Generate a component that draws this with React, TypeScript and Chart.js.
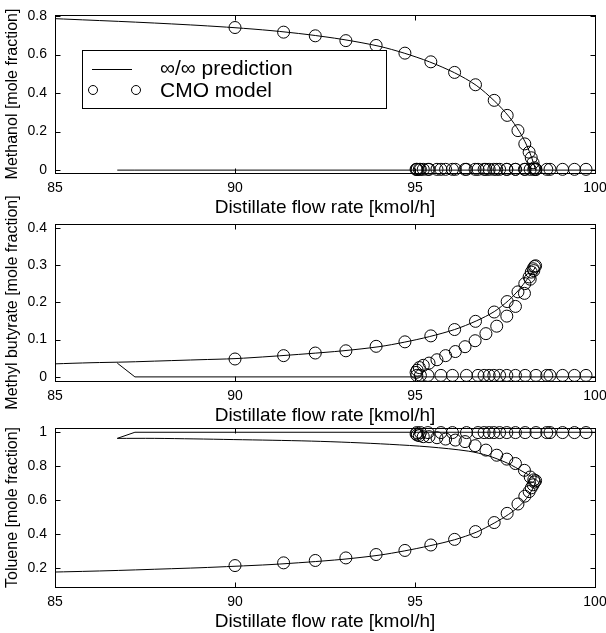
import React, { useEffect, useRef } from "react";
import { Chart, registerables } from "chart.js";

Chart.register(...registerables);

// ---------- data ----------
const X_TICKS = [85, 90, 95, 100];
const METHANOL_TICKS = [0, 0.2, 0.4, 0.6, 0.8];
const MB_TICKS = [0, 0.1, 0.2, 0.3, 0.4];
const TOLUENE_TICKS = [0.2, 0.4, 0.6, 0.8, 1];

// CMO model points, rising branch (D from 90 to the turning point)
const CMO_D_RISE = [90.0, 91.35, 92.23, 93.08, 93.92, 94.72, 95.44, 96.1, 96.68, 97.2, 97.56, 97.86, 98.05, 98.17, 98.23, 98.28, 98.32, 98.35];
const CMO_METHANOL_RISE = [0.74, 0.716, 0.697, 0.672, 0.647, 0.607, 0.562, 0.507, 0.443, 0.362, 0.284, 0.205, 0.136, 0.093, 0.064, 0.038, 0.012, 0.003];
const CMO_MB_RISE = [0.048, 0.057, 0.064, 0.07, 0.082, 0.094, 0.11, 0.127, 0.149, 0.174, 0.202, 0.228, 0.25, 0.268, 0.281, 0.29, 0.296, 0.298];
const CMO_TOLUENE_RISE = [0.216, 0.232, 0.246, 0.261, 0.281, 0.305, 0.337, 0.37, 0.416, 0.469, 0.523, 0.578, 0.624, 0.651, 0.673, 0.691, 0.707, 0.715];

// CMO model points, return branch (from the turning point back to D = 95)
const CMO_D_RETURN = [98.3, 98.2, 98.04, 97.79, 97.55, 97.27, 96.97, 96.67, 96.39, 96.12, 95.85, 95.61, 95.39, 95.23, 95.12, 95.06, 95.03];
const CMO_METHANOL_RETURN = [0.004, 0.004, 0.004, 0.004, 0.004, 0.004, 0.004, 0.004, 0.004, 0.004, 0.004, 0.004, 0.004, 0.004, 0.004, 0.004, 0.004];
const CMO_MB_RETURN = [0.285, 0.262, 0.224, 0.189, 0.163, 0.136, 0.116, 0.097, 0.081, 0.068, 0.057, 0.046, 0.037, 0.031, 0.025, 0.018, 0.012];
const CMO_TOLUENE_RETURN = [0.72, 0.737, 0.776, 0.816, 0.842, 0.865, 0.895, 0.921, 0.945, 0.954, 0.96, 0.968, 0.974, 0.974, 0.98, 0.984, 0.99];

// CMO model points, pure-toluene plateau branch
const CMO_D_PLATEAU = [95.05, 95.15, 95.36, 95.72, 96.04, 96.43, 96.75, 96.92, 97.06, 97.19, 97.35, 97.55, 97.79, 98.06, 98.36, 98.66, 98.75, 99.1, 99.43, 99.75];
const CMO_METHANOL_PLATEAU = [0.004, 0.004, 0.004, 0.004, 0.004, 0.004, 0.004, 0.004, 0.004, 0.004, 0.004, 0.004, 0.004, 0.004, 0.004, 0.004, 0.004, 0.004, 0.004, 0.004];
const CMO_MB_PLATEAU = [0.004, 0.004, 0.004, 0.004, 0.004, 0.004, 0.004, 0.004, 0.004, 0.004, 0.004, 0.004, 0.004, 0.004, 0.004, 0.004, 0.004, 0.004, 0.004, 0.004];
const CMO_TOLUENE_PLATEAU = [0.998, 0.998, 0.998, 0.998, 0.998, 0.998, 0.998, 0.998, 0.998, 0.998, 0.998, 0.998, 0.998, 0.998, 0.998, 0.998, 0.998, 0.998, 0.998, 0.998];

// ∞/∞ prediction, main branch
const PRED_D_MAIN = [85, 86, 87, 88, 89, 90, 91, 92, 93, 94, 94.7, 95.4, 96.1, 96.7, 97.2, 97.6, 97.9, 98.1, 98.25, 98.35];
const PRED_METHANOL_MAIN = [0.786, 0.778, 0.77, 0.761, 0.751, 0.739, 0.724, 0.704, 0.678, 0.643, 0.607, 0.562, 0.505, 0.44, 0.36, 0.28, 0.2, 0.13, 0.06, 0.0];
const PRED_MB_MAIN = [0.035, 0.038, 0.04, 0.043, 0.046, 0.049, 0.055, 0.062, 0.07, 0.081, 0.093, 0.108, 0.127, 0.15, 0.175, 0.205, 0.235, 0.26, 0.28, 0.295];
const PRED_TOLUENE_MAIN = [0.178, 0.183, 0.189, 0.196, 0.203, 0.212, 0.222, 0.236, 0.253, 0.277, 0.302, 0.332, 0.368, 0.412, 0.466, 0.517, 0.566, 0.611, 0.66, 0.706];

// ∞/∞ prediction, toluene return branch (turning point back to the tip)
const PRED_D_RETURN = [98.35, 98.3, 98.0, 97.57, 97.03, 96.48, 95.39, 94.3, 93.21, 92.12, 91.03, 89.95, 88.86, 87.77, 86.73];
const PRED_TOLUENE_RETURN = [0.706, 0.73, 0.768, 0.818, 0.862, 0.889, 0.914, 0.929, 0.94, 0.948, 0.953, 0.957, 0.961, 0.964, 0.964];

// ∞/∞ prediction, tip-to-edge branch
const PRED_D_EDGE = [86.73, 87.22, 100];
const PRED_METHANOL_EDGE = [0, 0, 0];
const PRED_MB_EDGE = [0.037, 0, 0];
const PRED_TOLUENE_EDGE = [0.964, 1.0, 1.0];

const X_TITLE = "Distillate flow rate [kmol/h]";
const LEGEND_LINE = "\u221e/\u221e prediction";
const LEGEND_MARK = "CMO model";

// ---------- helpers ----------
const FONT = 'Helvetica, Arial, "Liberation Sans", sans-serif';

const pts = (xs: number[], ys: number[]) => xs.map((x, i) => ({ x, y: ys[i] }));

const lineDs = (data: any[], tension = 0) => ({
  data,
  showLine: true,
  pointRadius: 0,
  pointHoverRadius: 0,
  borderColor: "#000",
  borderWidth: 1,
  tension,
  clip: false as any,
});

const cmoDs = (data: any[]) => ({
  data,
  showLine: false,
  pointRadius: 6,
  pointHoverRadius: 6,
  pointStyle: "circle",
  pointBorderColor: "#000",
  pointBackgroundColor: "rgba(0,0,0,0)",
  pointBorderWidth: 1,
  clip: false as any,
});

const boxPlugin = {
  id: "matlabBox",
  afterDatasetsDraw(chart: any) {
    const { ctx, chartArea: a, scales } = chart;
    const x = scales.x;
    const y = scales.y;
    ctx.save();
    ctx.strokeStyle = "#000";
    ctx.lineWidth = 1;
    const L = Math.round(a.left) + 0.5;
    const R = Math.round(a.right) + 0.5;
    const T = Math.round(a.top) + 0.5;
    const B = Math.round(a.bottom) + 0.5;
    ctx.strokeRect(L, T, R - L, B - T);
    ctx.beginPath();
    const tl = 5;
    x.ticks.forEach((t: any) => {
      const px = Math.round(x.getPixelForValue(t.value)) + 0.5;
      ctx.moveTo(px, B);
      ctx.lineTo(px, B - tl);
      ctx.moveTo(px, T);
      ctx.lineTo(px, T + tl);
    });
    y.ticks.forEach((t: any) => {
      const py = Math.round(y.getPixelForValue(t.value)) + 0.5;
      ctx.moveTo(L, py);
      ctx.lineTo(L + tl, py);
      ctx.moveTo(R, py);
      ctx.lineTo(R - tl, py);
    });
    ctx.stroke();
    ctx.restore();
  },
};

const legendPlugin = {
  id: "cmoLegend",
  afterDatasetsDraw(chart: any) {
    const ctx = chart.ctx;
    ctx.save();
    ctx.fillStyle = "#fff";
    ctx.fillRect(82.5, 50.5, 304, 58);
    ctx.strokeStyle = "#000";
    ctx.lineWidth = 1;
    ctx.strokeRect(82.5, 50.5, 304, 58);
    ctx.beginPath();
    ctx.moveTo(92, 69.5);
    ctx.lineTo(132, 69.5);
    ctx.stroke();
    [93, 136].forEach((cx) => {
      ctx.beginPath();
      ctx.arc(cx, 90, 4.5, 0, Math.PI * 2);
      ctx.stroke();
    });
    ctx.fillStyle = "#000";
    ctx.font = `21px ${FONT}`;
    ctx.textAlign = "left";
    ctx.textBaseline = "middle";
    ctx.fillText(LEGEND_LINE, 160, 69);
    ctx.fillText(LEGEND_MARK, 160, 91);
    ctx.restore();
  },
};

type Panel = {
  top: number;
  height: number;
  padTop: number;
  padBottom: number;
  yMin: number;
  yMax: number;
  yTicks: number[];
  yTitle: string;
  datasets: any[];
  legend?: boolean;
};

const PANELS: Panel[] = [
  {
    top: 0,
    height: 230,
    padTop: 15,
    padBottom: 11,
    yMin: -0.015,
    yMax: 0.805,
    yTicks: METHANOL_TICKS,
    yTitle: "Methanol [mole fraction]",
    legend: true,
    datasets: [
      lineDs(pts(PRED_D_MAIN, PRED_METHANOL_MAIN), 0.3),
      lineDs(pts(PRED_D_EDGE, PRED_METHANOL_EDGE)),
      cmoDs(pts(CMO_D_RISE, CMO_METHANOL_RISE)),
      cmoDs(pts(CMO_D_RETURN, CMO_METHANOL_RETURN)),
      cmoDs(pts(CMO_D_PLATEAU, CMO_METHANOL_PLATEAU)),
    ],
  },
  {
    top: 180,
    height: 255,
    padTop: 44,
    padBottom: 8,
    yMin: -0.011,
    yMax: 0.41,
    yTicks: MB_TICKS,
    yTitle: "Methyl butyrate [mole fraction]",
    datasets: [
      lineDs(pts(PRED_D_MAIN, PRED_MB_MAIN), 0.3),
      lineDs(pts(PRED_D_EDGE, PRED_MB_EDGE)),
      cmoDs(pts(CMO_D_RISE, CMO_MB_RISE)),
      cmoDs(pts(CMO_D_RETURN, CMO_MB_RETURN)),
      cmoDs(pts(CMO_D_PLATEAU, CMO_MB_PLATEAU)),
    ],
  },
  {
    top: 403,
    height: 230,
    padTop: 25,
    padBottom: 0,
    yMin: 0.09,
    yMax: 1.025,
    yTicks: TOLUENE_TICKS,
    yTitle: "Toluene [mole fraction]",
    datasets: [
      lineDs(pts(PRED_D_MAIN, PRED_TOLUENE_MAIN), 0.3),
      lineDs(pts(PRED_D_RETURN, PRED_TOLUENE_RETURN), 0.3),
      lineDs(pts(PRED_D_EDGE, PRED_TOLUENE_EDGE)),
      cmoDs(pts(CMO_D_RISE, CMO_TOLUENE_RISE)),
      cmoDs(pts(CMO_D_RETURN, CMO_TOLUENE_RETURN)),
      cmoDs(pts(CMO_D_PLATEAU, CMO_TOLUENE_PLATEAU)),
    ],
  },
];

function PanelChart({ panel }: { panel: Panel }) {
  const ref = useRef<HTMLCanvasElement | null>(null);
  useEffect(() => {
    if (!ref.current) return;
    const chart = new Chart(ref.current, {
      type: "scatter",
      data: { datasets: panel.datasets },
      plugins: panel.legend ? [boxPlugin, legendPlugin] : [boxPlugin],
      options: {
        animation: false,
        responsive: false,
        devicePixelRatio: 1,
        events: [],
        layout: {
          padding: { top: panel.padTop, bottom: panel.padBottom, left: 0, right: 11 },
        },
        plugins: {
          legend: { display: false },
          tooltip: { enabled: false },
          title: { display: false },
        },
        scales: {
          x: {
            type: "linear",
            min: 85,
            max: 100,
            afterBuildTicks: (s: any) => {
              s.ticks = X_TICKS.map((v) => ({ value: v }));
            },
            afterFit: (s: any) => {
              s.height = 46;
              s.paddingLeft = 0;
              s.paddingRight = 0;
            },
            grid: { display: false, drawTicks: false },
            border: { display: false },
            ticks: {
              padding: 7,
              color: "#000",
              font: { family: FONT, size: 14 },
              maxRotation: 0,
              callback: (v: any) => String(v),
            },
            title: {
              display: true,
              text: X_TITLE,
              color: "#000",
              font: { family: FONT, size: 19 },
              padding: { top: 0, bottom: 0 },
            },
          },
          y: {
            type: "linear",
            min: panel.yMin,
            max: panel.yMax,
            afterBuildTicks: (s: any) => {
              s.ticks = panel.yTicks.map((v) => ({ value: v }));
            },
            afterFit: (s: any) => {
              s.width = 55;
              s.paddingTop = 0;
              s.paddingBottom = 0;
            },
            grid: { display: false, drawTicks: false },
            border: { display: false },
            ticks: {
              padding: 8,
              color: "#000",
              font: { family: FONT, size: 14 },
              callback: (v: any) => String(Number(Number(v).toFixed(2))),
            },
            title: {
              display: true,
              text: panel.yTitle,
              color: "#000",
              font: { family: FONT, size: 16 },
              padding: { top: 3, bottom: 0 },
            },
          },
        },
      } as any,
    });
    return () => chart.destroy();
  }, [panel]);
  return (
    <canvas
      ref={ref}
      width={606}
      height={panel.height}
      style={{ position: "absolute", left: 0, top: panel.top, width: 606, height: panel.height, display: "block" }}
    />
  );
}

export default function App() {
  return (
    <div style={{ position: "absolute", left: 0, top: 0, width: 606, height: 633, background: "#fff", overflow: "hidden" }}>
      {PANELS.map((p, i) => (
        <PanelChart key={i} panel={p} />
      ))}
    </div>
  );
}
